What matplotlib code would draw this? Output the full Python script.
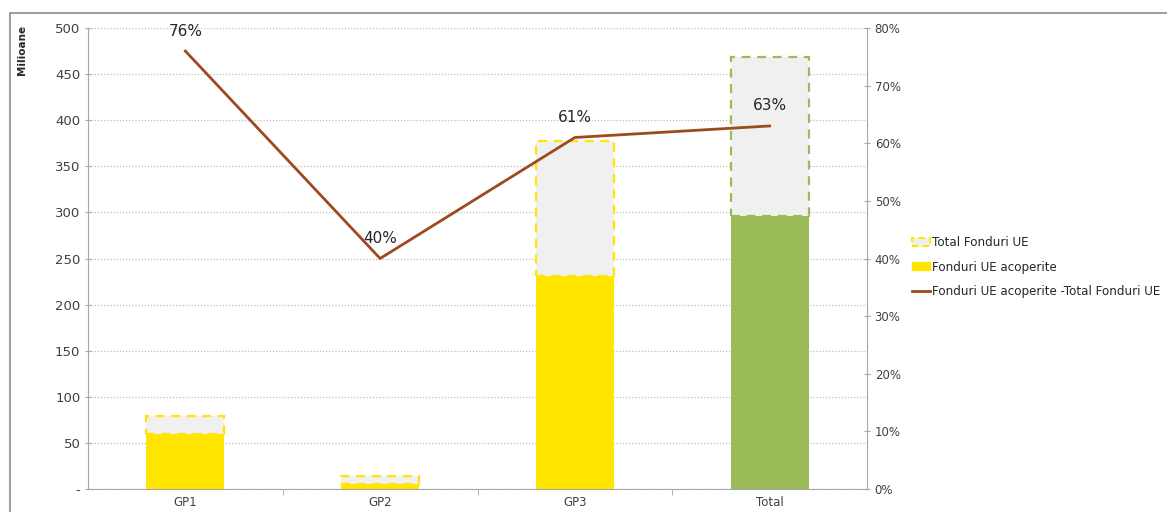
import matplotlib
matplotlib.use("Agg")
import matplotlib.pyplot as plt
from matplotlib.patches import Patch, Rectangle
from matplotlib.lines import Line2D
from matplotlib.ticker import FuncFormatter, MultipleLocator, FixedLocator

categories = ["GP1", "GP2", "GP3", "Total"]
total_funds = [79, 14, 377, 469]
covered_funds = [60, 5.6, 231, 296]
coverage_pct = [0.76, 0.40, 0.61, 0.63]
pct_labels = ["76%", "40%", "61%", "63%"]

yellow = "#FFE500"
green = "#9BBB59"
gray_fill = "#F0F0F0"
brown = "#9C4A1E"
axis_gray = "#A6A6A6"
text_col = "#404040"

plt.rcParams["font.family"] = ["DejaVu Sans"]

fig = plt.figure(figsize=(11.67, 5.12), dpi=100)
fig.patches.append(Rectangle((10/1167, -0.01), 1.0, (512-13)/512 + 0.01,
                             transform=fig.transFigure, fill=False,
                             edgecolor="#8C8C8C", linewidth=1.2))

ax = fig.add_axes([88/1167, (512-489)/512, (867-88)/1167, (489-28)/512])
x = list(range(len(categories)))
fill_cols = [yellow, yellow, yellow, green]

ax.bar(x, covered_funds, width=0.4, color=fill_cols, zorder=2)
ax.bar(x, [t - c for t, c in zip(total_funds, covered_funds)], bottom=covered_funds,
       width=0.4, color=gray_fill, edgecolor=fill_cols, linestyle=(0, (4, 3)),
       linewidth=1.6, zorder=2)

ax.set_xlim(-0.5, 3.5)
ax.set_ylim(0, 500)
ax.yaxis.set_major_locator(MultipleLocator(50))
ax.yaxis.set_major_formatter(FuncFormatter(lambda v, p: "-" if v == 0 else f"{int(v)}"))
ax.grid(axis="y", color="#BFBFBF", linestyle=(0, (1, 1.5)), linewidth=0.9, zorder=0)
ax.set_axisbelow(True)
ax.set_xticks(x)
ax.set_xticklabels(categories)
ax.xaxis.set_minor_locator(FixedLocator([0.5, 1.5, 2.5]))
ax.tick_params(axis="x", which="major", length=0, labelsize=8.5, labelcolor=text_col, pad=5)
ax.tick_params(axis="x", which="minor", length=4, color=axis_gray)
ax.tick_params(axis="y", length=4, color=axis_gray, labelsize=9.5, labelcolor=text_col, direction="inout")
for s in ["top", "right"]:
    ax.spines[s].set_visible(False)
for s in ["left", "bottom"]:
    ax.spines[s].set_color(axis_gray)

ax2 = ax.twinx()
ax2.plot(x, coverage_pct, color=brown, linewidth=2, zorder=5)
ax2.set_ylim(0, 0.8)
ax2.yaxis.set_major_locator(MultipleLocator(0.1))
ax2.yaxis.set_major_formatter(FuncFormatter(lambda v, p: f"{int(round(v*100))}%"))
ax2.tick_params(axis="y", length=4, color=axis_gray, labelsize=8.5, labelcolor=text_col, direction="inout")
for s in ["top", "left", "bottom"]:
    ax2.spines[s].set_visible(False)
ax2.spines["right"].set_color(axis_gray)
for xi, p, lab in zip(x, coverage_pct, pct_labels):
    ax2.annotate(lab, (xi, p), xytext=(0, 9), textcoords="offset points",
                 ha="center", va="bottom", fontsize=11, color="#262626")

fig.text(22/1167, (512-50)/512, "Milioane", rotation=90, ha="center", va="center",
         fontsize=7.5, color="#262626", fontweight="bold")

handles = [
    Patch(facecolor=gray_fill, edgecolor=yellow, linestyle=(0, (3, 2)), linewidth=1.5),
    Patch(facecolor=yellow, edgecolor=yellow),
    Line2D([0], [0], color=brown, linewidth=2),
]
labels = ["Total Fonduri UE", "Fonduri UE acoperite", "Fonduri UE acoperite -Total Fonduri UE"]
fig.legend(handles, labels, loc="center left", bbox_to_anchor=(912/1167, (512-267)/512),
           frameon=False, fontsize=8.6, handlelength=1.5, handleheight=0.6,
           handletextpad=0.15, labelspacing=0.95, borderaxespad=0, borderpad=0,
           labelcolor="#262626")

fig.savefig("out.png", dpi=100)
